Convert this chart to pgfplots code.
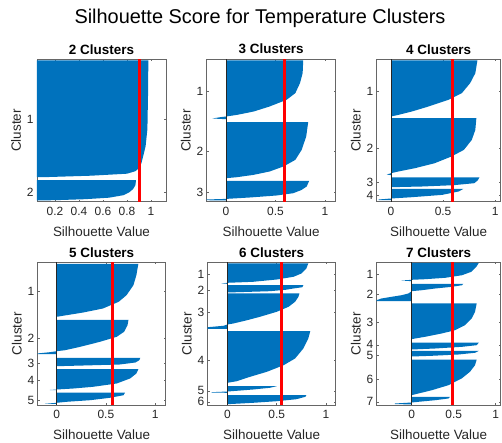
\documentclass[border=0pt]{standalone}
\usepackage{fontspec}
\setmainfont{Liberation Sans}
\usepackage{pgfplots}
\pgfplotsset{compat=1.18}
\definecolor{mblue}{HTML}{0072BD}
\definecolor{mgray}{HTML}{262626}
\pgfplotsset{
  sil/.style={
    scale only axis, height=142.5bp, y dir=reverse, ymin=0, ymax=142.5,
    axis line style={black!60, line width=0.5bp},
    tick style={black!60, line width=0.5bp}, major tick length=2bp, tick align=inside,
    /pgf/number format/assume math mode=true,
    ticklabel style={font=\fontsize{12}{14}\selectfont, text=mgray},
    xticklabel style={yshift=-2bp},
    every axis x label/.style={at={([yshift=-30bp]axis description cs:0.5,0)}, anchor=center, font=\fontsize{13.5}{16}\selectfont, text=mgray},
    every axis y label/.style={at={([xshift=-21bp]axis description cs:0,0.5)}, anchor=center, rotate=90, font=\fontsize{13.5}{16}\selectfont, text=mgray},
    every axis title/.style={at={([yshift=10bp]axis description cs:0.5,1)}, anchor=center, font=\bfseries\fontsize{13.5}{16}\selectfont, text=black},
    xlabel={Silhouette Value}, ylabel={Cluster},
  },
  clu/.style={fill=mblue, draw=none},
  avg/.style={red, line width=3bp},
  base/.style={black!85, line width=0.6bp},
}
\begin{document}
\begin{tikzpicture}
\useasboundingbox (0,0) rectangle (502bp,443bp);
\node[font=\fontsize{20}{24}\selectfont, text=black] at (260bp,425bp) {Silhouette Score for Temperature Clusters};

% 2 clusters
\begin{axis}[sil, at={(37bp,241.3bp)}, anchor=south west, width=129bp,
  xmin=0.05, xmax=1.125, xtick={0.2,0.4,0.6,0.8,1}, ytick={60,133}, yticklabels={1,2},
  title={2 Clusters}]
\addplot[clu] coordinates {(0,1.3) (0.978,1.3) (0.975,37) (0.97,70) (0.955,87) (0.935,97) (0.92,104) (0.9,109) (0.87,112) (0.8,114.5) (0.5,116.5) (0.1,118) (0,118)} -- cycle;
\addplot[clu] coordinates {(0,121) (0.875,121) (0.87,126) (0.85,130) (0.82,133) (0.77,136) (0.65,138.5) (0.45,140) (0.2,141) (0,141.3)} -- cycle;
\addplot[avg] coordinates {(0.903,0) (0.903,142.5)};
\end{axis}

% 3 clusters
\begin{axis}[sil, at={(206.7bp,241.3bp)}, anchor=south west, width=129bp,
  xmin=-0.195, xmax=1.108, xtick={0,0.5,1}, ytick={32,92,133}, yticklabels={1,2,3},
  title={3 Clusters}]
\addplot[clu] coordinates {(0,1.3) (0.78,1.3) (0.774,14) (0.747,24) (0.70,34) (0.61,40.7) (0.44,47.3) (0.28,52.3) (0.11,55.7) (0,57.3) (-0.06,58) (-0.135,59.3) (0,60)} -- cycle;
\addplot[clu] coordinates {(0,63) (0.83,63) (0.81,77.3) (0.764,90.7) (0.70,100.7) (0.58,107.3) (0.44,112.3) (0.276,115.7) (0.11,118) (0,119)} -- cycle;
\addplot[clu] coordinates {(0,121.7) (0.84,121.7) (0.815,127.3) (0.764,130.7) (0.68,134) (0.51,136.3) (0.24,138.3) (0,139.7) (-0.2,140.3) (-0.2,141) (0,141.3)} -- cycle;
\addplot[base] coordinates {(0,0) (0,142.5)};
\addplot[avg] coordinates {(0.589,0) (0.589,142.5)};
\end{axis}

% 4 clusters
\begin{axis}[sil, at={(376.7bp,241.3bp)}, anchor=south west, width=124bp,
  xmin=-0.138, xmax=1.054, xtick={0,0.5,1}, ytick={32,89,123,136}, yticklabels={1,2,3,4},
  title={4 Clusters}]
\addplot[clu] coordinates {(0,1.3) (0.83,1.3) (0.81,14) (0.76,24) (0.68,34) (0.55,40.7) (0.36,47.3) (0.2,52.3) (0.07,55.7) (0,57.3)} -- cycle;
\addplot[clu] coordinates {(0,59) (0.82,59) (0.81,70.7) (0.776,80.7) (0.70,90.7) (0.58,97.3) (0.42,104) (0.23,109) (0.07,112.3) (0,114) (-0.04,115.3) (0,116)} -- cycle;
\addplot[clu] coordinates {(0,118.3) (0.85,118.3) (0.83,121.5) (0.80,124) (0.6,126) (0.3,127.3) (0,128)} -- cycle;
\addplot[clu] coordinates {(0,129.7) (0.695,129.7) (0.65,132.3) (0.49,135.7) (0.2,138) (0,139.3) (-0.12,140.3) (-0.12,140.9) (0,141)} -- cycle;
\addplot[base] coordinates {(0,0) (0,142.5)};
\addplot[avg] coordinates {(0.59,0) (0.59,142.5)};
\end{axis}

% 5 clusters
\begin{axis}[sil, at={(37.7bp,38bp)}, anchor=south west, width=128bp,
  xmin=-0.193, xmax=1.108, xtick={0,0.5,1}, ytick={28.7,76,101,117.7,137.7}, yticklabels={1,2,3,4,5},
  title={5 Clusters}]
\addplot[clu] coordinates {(0,1.3) (0.83,1.3) (0.81,12.7) (0.78,22.7) (0.71,32.7) (0.63,39.3) (0.47,46) (0.27,50) (0.1,52.7) (0,54.3)} -- cycle;
\addplot[clu] coordinates {(0,57.3) (0.73,57.3) (0.72,62.7) (0.685,69.3) (0.61,74.3) (0.44,79.3) (0.24,84.3) (0.085,87.7) (0,88.7) (-0.07,89.7) (-0.2,91) (-0.2,91.7) (0,91.7)} -- cycle;
\addplot[clu] coordinates {(0,95.3) (0.85,95.3) (0.84,97.7) (0.8,100) (0.64,102) (0.27,103) (0,103.7)} -- cycle;
\addplot[clu] coordinates {(0,106.7) (0.83,106.7) (0.81,111) (0.746,116) (0.61,121) (0.37,124.3) (0.17,126) (0,127) (-0.07,127.5) (0,127.7)} -- cycle;
\addplot[clu] coordinates {(0,130) (0.695,130) (0.68,132.7) (0.54,135.3) (0.34,137.7) (0.1,139.3) (0,140.3) (-0.12,141.3) (0,141.5)} -- cycle;
\addplot[base] coordinates {(0,0) (0,142.5)};
\addplot[avg] coordinates {(0.563,0) (0.563,142.5)};
\end{axis}

% 6 clusters
\begin{axis}[sil, at={(207.7bp,38bp)}, anchor=south west, width=128bp,
  xmin=-0.2, xmax=1.098, xtick={0,0.5,1}, ytick={12,27.7,50,97.7,128.3,139.3}, yticklabels={1,2,3,4,5,6},
  title={6 Clusters}]
\addplot[clu] coordinates {(0,1) (0.82,1) (0.80,6) (0.75,11) (0.67,14.3) (0.5,17) (0.26,19.3) (0,20.3) (-0.06,21) (0,21.3)} -- cycle;
\addplot[clu] coordinates {(0,22.7) (0.77,22.7) (0.76,24.7) (0.67,26) (0.59,27.3) (0.43,28.7) (0.1,29.7) (0,30)} -- cycle;
\addplot[clu] coordinates {(0,31) (0.73,31) (0.72,34.3) (0.686,39.3) (0.62,44.3) (0.5,49.3) (0.33,54.3) (0.2,57.7) (0.06,61) (0,62) (-0.04,63.3) (-0.2,64.7) (-0.2,66.3) (0,66.3)} -- cycle;
\addplot[clu] coordinates {(0,68.7) (0.84,68.7) (0.82,76) (0.77,86) (0.686,96) (0.57,102.7) (0.4,109.3) (0.23,114.3) (0.095,118.7) (0,120.3) (0,121)} -- cycle;
\addplot[clu] coordinates {(0,123.7) (0.5,123.7) (0.43,125.3) (0.26,127) (0.095,128.3) (0,129) (-0.16,129.7) (-0.16,130) (0,130.3)} -- cycle;
\addplot[clu] coordinates {(0,132.7) (0.8,132.7) (0.79,134.3) (0.7,136.7) (0.5,138.7) (0.26,140.3) (0,141.7)} -- cycle;
\addplot[base] coordinates {(0,0) (0,142.5)};
\addplot[avg] coordinates {(0.55,0) (0.55,142.5)};
\end{axis}

% 7 clusters
\begin{axis}[sil, at={(376.7bp,38bp)}, anchor=south west, width=124bp,
  xmin=-0.417, xmax=1.06, xtick={0,0.5,1}, ytick={12,32,60,82.3,93,116.7,139.3}, yticklabels={1,2,3,4,5,6,7},
  title={7 Clusters}]
\addplot[clu] coordinates {(0,0.3) (0.8,0.3) (0.77,4.3) (0.71,9.3) (0.6,12.7) (0.4,15.3) (0.16,16.7) (0,17.3) (-0.12,18) (0,18.7)} -- cycle;
\addplot[clu] coordinates {(0,21.3) (0.615,21.3) (0.6,22.7) (0.48,24.3) (0.28,26) (0.12,27.7) (0,28.7) (-0.04,31) (-0.12,32.7) (-0.24,34.3) (-0.36,36) (-0.42,37.7) (-0.42,38.7) (0,38.7)} -- cycle;
\addplot[clu] coordinates {(0,41) (0.774,41) (0.754,49.3) (0.714,56) (0.635,62.7) (0.516,67.7) (0.357,71) (0.16,74.3) (0.04,76) (0,76.7)} -- cycle;
\addplot[clu] coordinates {(0,80) (0.8,80) (0.774,82.7) (0.6,84.3) (0.28,86) (0,87)} -- cycle;
\addplot[clu] coordinates {(0,88.3) (0.8,88.3) (0.754,90.3) (0.556,92) (0.24,93.3) (0,94)} -- cycle;
\addplot[clu] coordinates {(0,97) (0.774,97) (0.754,102.7) (0.694,109.3) (0.595,116) (0.437,122.7) (0.24,127.7) (0.08,131) (0,132.7)} -- cycle;
\addplot[clu] coordinates {(0,134.3) (0.456,134.3) (0.437,136) (0.28,137.7) (0.08,139.3) (0,140) (-0.2,141) (-0.2,141.5) (0,142)} -- cycle;
\addplot[base] coordinates {(0,0) (0,142.5)};
\addplot[avg] coordinates {(0.484,0) (0.484,142.5)};
\end{axis}
\end{tikzpicture}
\end{document}
